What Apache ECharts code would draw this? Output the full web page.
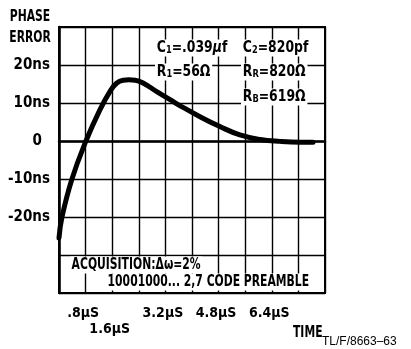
<!DOCTYPE html>
<html>
<head>
<meta charset="utf-8">
<script src="https://cdn.jsdelivr.net/npm/echarts@6/dist/echarts.min.js"></script>
<style>
  html, body { margin: 0; padding: 0; background: #fff; }
  #chart { width: 411px; height: 349px; }
</style>
</head>
<body>
<div id="chart"></div>
<script>
// Phase error response over time (acquisition transient)
const timeUs = [0, 0.09, 0.39, 0.81, 1.23, 1.53, 1.73, 1.93, 2.1, 2.29, 2.54, 2.94, 3.34, 3.7, 4.24, 4.84, 5.44, 6.05, 6.65, 7.25, 7.64];
const phaseErrorNs = [-25.5, -20, -10, 0, 8.2, 13, 15.2, 16, 16.1, 16, 15.2, 13, 10.9, 9.0, 6.4, 3.8, 1.6, 0.4, -0.1, -0.3, -0.3];

// Axis tick labels
const xTickValues = [0.8, 1.6, 3.2, 4.8, 6.4];
const xTickLabels = ['.8\u00b5S', '1.6\u00b5S', '3.2\u00b5S', '4.8\u00b5S', '6.4\u00b5S'];
const yTickValues = [20, 10, 0, -10, -20];
const yTickLabels = ['20ns', '10ns', '0', '-10ns', '-20ns'];

const FONT = "'Liberation Sans Narrow', 'DejaVu Sans Condensed', Roboto, sans-serif";
const INK = '#000';

const chart = echarts.init(document.getElementById('chart'), null, { renderer: 'canvas' });

function findLabel(values, labels, v) {
  for (let i = 0; i < values.length; i++) {
    if (Math.abs(values[i] - v) < 1e-6) return labels[i];
  }
  return null;
}

const subRich = {
  s: { fontFamily: FONT, fontWeight: 'bold', fontSize: 10, verticalAlign: 'bottom', padding: [9, 0, 0, 0], lineHeight: 10 },
  m: { fontFamily: FONT, fontWeight: 'bold', fontStyle: 'italic', fontSize: 15 }
};

function note(text, x, y, sx, size) {
  return {
    type: 'text',
    x: x,
    y: y,
    z: 1,
    scaleX: sx,
    style: {
      text: text,
      fontFamily: FONT,
      fontWeight: 'bold',
      fontSize: size || 15,
      fill: INK,
      verticalAlign: 'middle',
      align: 'left',
      backgroundColor: '#fff',
      padding: [1, 2, 1, 2],
      rich: subRich
    }
  };
}

function plain(text, x, y, sx, align) {
  return {
    type: 'text', x: x, y: y, scaleX: sx,
    style: { text: text, fontFamily: FONT, fontWeight: 'bold', fontSize: 15, fill: INK, align: align, verticalAlign: 'middle' }
  };
}

const option = {
  backgroundColor: '#fff',
  animation: false,
  grid: {
    left: 59, top: 27, width: 266, height: 266,
    show: true, borderColor: INK, borderWidth: 2, backgroundColor: '#fff'
  },
  xAxis: {
    type: 'value', min: 0, max: 8, interval: 0.8,
    axisLine: { show: true, lineStyle: { color: INK, width: 2.5 } },
    axisTick: { show: false },
    splitLine: { show: true, lineStyle: { color: INK, width: 1.4 } },
    axisLabel: {
      margin: 12,
      fontFamily: FONT, fontWeight: 'bold', fontSize: 14, color: INK,
      lineHeight: 16,
      padding: [0, 5, 0, 0],
      formatter: function (v) {
        const t = findLabel(xTickValues, xTickLabels, v);
        if (!t) return '';
        return Math.abs(v - 1.6) < 1e-6 ? '\n' + t : t;
      }
    }
  },
  yAxis: {
    type: 'value', min: -40, max: 30, interval: 10,
    axisLine: { show: true, lineStyle: { color: INK, width: 2.5 } },
    axisTick: { show: false },
    splitLine: { show: true, lineStyle: { color: INK, width: 1.4 } },
    axisLabel: {
      margin: 9,
      fontFamily: FONT, fontWeight: 'bold', fontSize: 15, color: INK,
      formatter: function (v) {
        const t = findLabel(yTickValues, yTickLabels, v);
        if (t === null) return '';
        return v === 0 ? '{z|' + t + '}' : t;
      },
      rich: { z: { fontFamily: FONT, fontWeight: 'bold', fontSize: 15, color: INK, padding: [0, 8, 0, 0] } }
    }
  },
  graphic: [
    plain('PHASE', 30, 17, 0.8, 'center'),
    plain('ERROR', 30, 38, 0.8, 'center'),
    note('C{s|1}=.039{m|\u03bc}f', 155, 48, 0.92),
    note('C{s|2}=820pf', 241, 48, 0.92),
    note('R{s|1}=56\u03a9', 155, 72, 0.92),
    note('R{s|R}=820\u03a9', 241, 72, 0.92),
    note('R{s|B}=619\u03a9', 241, 97, 0.92),
    note('ACQUISITION:\u0394\u03c9=2%', 70, 265, 0.8, 15),
    note('10001000... 2,7 CODE PREAMBLE', 106, 282, 0.8, 15),
    plain('TIME', 293, 333, 0.8, 'left'),
    { type: 'text', x: 322, y: 342, style: { text: 'TL/F/8663\u201363', fontFamily: "'Liberation Sans', sans-serif", fontSize: 12, fill: INK, verticalAlign: 'middle' } }
  ],
  series: [{
    type: 'line',
    data: timeUs.map((t, i) => [t, phaseErrorNs[i]]),
    smooth: 0.45,
    symbol: 'none',
    z: 5,
    lineStyle: { color: INK, width: 5, cap: 'round', join: 'round' }
  }]
};

chart.setOption(option);
</script>
</body>
</html>
